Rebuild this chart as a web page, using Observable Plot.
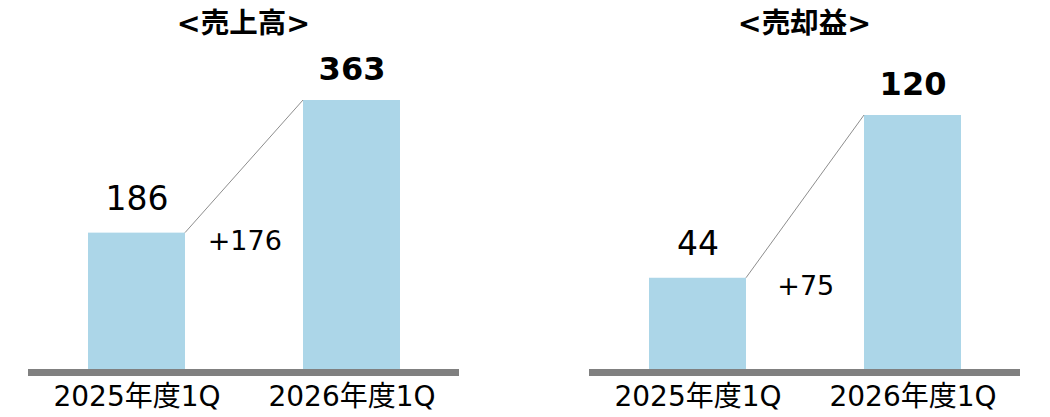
<!DOCTYPE html>
<html>
<head>
<meta charset="utf-8">
<script src="https://cdn.jsdelivr.net/npm/d3@7"></script>
<script src="https://cdn.jsdelivr.net/npm/@observablehq/plot@0.6"></script>
<style>
  html, body { margin: 0; padding: 0; background: #fff; }
  #wrap { display: flex; width: 1050px; height: 417px; overflow: hidden; }
  .panel { width: 525px; }
  .title { height: 48px; line-height: 48px; text-align: center; font-weight: bold; font-size: 28.5px;
           font-family: "DejaVu Sans", "Noto Sans CJK JP", sans-serif; color: #000; box-sizing: border-box; }
  svg { display: block; }
</style>
</head>
<body>
<div id="wrap"></div>
<script>
const categories = ["2025年度1Q", "2026年度1Q"];
const salesValues = [186, 363];
const gainValues = [44, 120];
const panelTitles = ["<売上高>", "<売却益>"];
const diffLabels = ["+176", "+75"];

const barColor = "#acd6e8";
const axisColor = "#808080";
const fontFamily = "'DejaVu Sans', 'Noto Sans CJK JP', sans-serif";

function panel(title, values, diff, margins) {
  const data = categories.map((c, i) => ({cat: c, value: values[i], i}));
  const div = document.createElement("div");
  div.className = "panel";
  const t = document.createElement("div");
  t.className = "title";
  t.style.paddingLeft = margins.left + "px";
  t.style.paddingRight = margins.right + "px";
  t.textContent = title;
  div.appendChild(t);

  const connector = (index, scales) => {
    const x = scales.x, y = scales.y;
    const bw = x.bandwidth();
    const line = d3.create("svg:line")
      .attr("x1", x(categories[0]) + bw)
      .attr("y1", y(values[0]))
      .attr("x2", x(categories[1]))
      .attr("y2", y(values[1]))
      .attr("stroke", axisColor)
      .attr("stroke-width", 0.9);
    return line.node();
  };

  const chart = Plot.plot({
    width: 525,
    height: 369,
    marginLeft: margins.left,
    marginRight: margins.right,
    marginTop: margins.top,
    marginBottom: 45,
    style: {fontFamily, color: "#000", background: "#fff", overflow: "visible"},
    x: {domain: categories, paddingInner: 0.55, paddingOuter: 0.275, label: null},
    y: {domain: [0, d3.max(values)], axis: null},
    marks: [
      Plot.barY(data, {x: "cat", y: "value", fill: barColor}),
      Plot.ruleY([0], {stroke: axisColor, strokeWidth: 7}),
      connector,
      Plot.text(data.filter(d => d.i === 0), {x: "cat", y: "value", text: d => String(d.value),
        lineAnchor: "bottom", dy: -23, fontSize: 33, fill: "#000"}),
      Plot.text(data.filter(d => d.i === 1), {x: "cat", y: "value", text: d => String(d.value),
        lineAnchor: "bottom", dy: -21, fontSize: 32, fontWeight: "bold", fill: "#000"}),
      Plot.text([diff], {x: () => categories[0], y: () => values[0], text: d => d,
        dx: 107.75, dy: 17, lineAnchor: "bottom", fontSize: 27, fill: "#000"}),
      Plot.axisX({tickSize: 0, tickPadding: 14, fontSize: 28, label: null, fill: "#000"})
    ]
  });
  div.appendChild(chart);
  return div;
}

const wrap = document.getElementById("wrap");
wrap.appendChild(panel(panelTitles[0], salesValues, diffLabels[0], {left: 28, right: 66, top: 52}));
wrap.appendChild(panel(panelTitles[1], gainValues, diffLabels[1], {left: 64, right: 30, top: 67}));
</script>
</body>
</html>
